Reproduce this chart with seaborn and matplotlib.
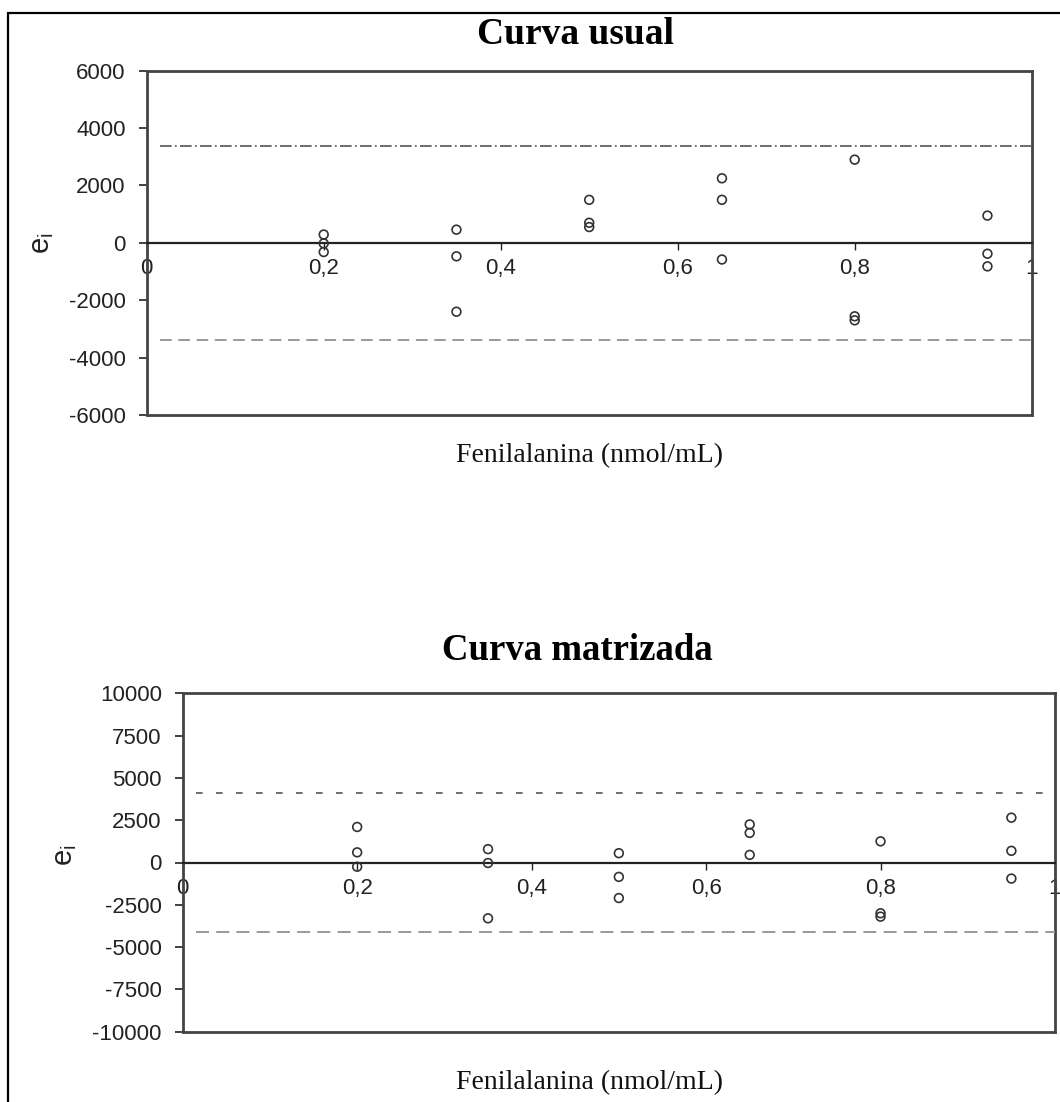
import matplotlib
matplotlib.use("Agg")
import matplotlib.pyplot as plt
import seaborn as sns
import pandas as pd
from matplotlib.patches import Rectangle

# ---------------- data ----------------
x_levels = [0.2, 0.2, 0.2, 0.35, 0.35, 0.35, 0.5, 0.5, 0.5,
            0.65, 0.65, 0.65, 0.8, 0.8, 0.8, 0.95, 0.95, 0.95]
e_usual = [290, -20, -320, 460, -470, -2400, 1500, 700, 550,
           2250, 1500, -580, 2900, -2560, -2700, 950, -380, -820]
e_matrizada = [2100, 600, -250, 790, -30, -3300, 550, -850, -2100,
               2250, 1750, 450, 1250, -3000, -3200, 2650, 690, -950]
lim_usual = 3370
lim_matrizada = 4100

xticks = [0, 0.2, 0.4, 0.6, 0.8, 1]
xtick_labels = ["0", "0,2", "0,4", "0,6", "0,8", "1"]
yticks_usual = [6000, 4000, 2000, 0, -2000, -4000, -6000]
yticks_matrizada = [10000, 7500, 5000, 2500, 0, -2500, -5000, -7500, -10000]

title_usual = "Curva usual"
title_matrizada = "Curva matrizada"
xlabel = "Fenilalanina (nmol/mL)"
ylabel = r"$\mathregular{e_i}$"

# ---------------- style ----------------
sns.set_style("white")
plt.rcParams['font.family'] = ['Liberation Sans', 'DejaVu Sans']
plt.rcParams['axes.unicode_minus'] = False
plt.rcParams['mathtext.fontset'] = 'custom'
plt.rcParams['mathtext.rm'] = 'Liberation Sans'
plt.rcParams['mathtext.it'] = 'Liberation Sans'

W, H = 1060, 1102
fig = plt.figure(figsize=(W / 100, H / 100), dpi=100)
fig.patch.set_facecolor("white")

frame_col = "#444444"
tick_col = "#222222"


def make_panel(rect, yvals, lim, yticks, ls_up, col_up, lw_up, ls_dn, col_dn, lw_dn):
    ax = fig.add_axes(rect)
    df = pd.DataFrame({"x": x_levels, "e": yvals})
    sns.scatterplot(data=df, x="x", y="e", ax=ax, marker="o", s=40,
                    facecolors="none", edgecolor="#333333", linewidth=1.2,
                    zorder=5, legend=False)
    ax.set_xlim(0, 1)
    ax.set_ylim(yticks[-1], yticks[0])
    ax.axhline(lim, xmin=0.015, xmax=1, color=col_up, lw=lw_up, ls=ls_up, zorder=3)
    ax.axhline(-lim, xmin=0.015, xmax=1, color=col_dn, lw=lw_dn, ls=ls_dn, zorder=3)
    # frame bottom edge (x-axis spine sits at zero)
    ax.axhline(yticks[-1], color=frame_col, lw=2.0, clip_on=False, zorder=4)
    for s in ["top", "left", "right"]:
        ax.spines[s].set_color(frame_col)
        ax.spines[s].set_linewidth(2.0)
        ax.spines[s].set_visible(True)
    ax.spines["bottom"].set_position(("data", 0))
    ax.spines["bottom"].set_color("#222222")
    ax.spines["bottom"].set_linewidth(1.6)
    ax.spines["bottom"].set_visible(True)
    ax.set_xticks(xticks)
    ax.set_xticklabels(xtick_labels)
    ax.set_yticks(yticks)
    ax.set_yticklabels([str(v) for v in yticks])
    ax.tick_params(axis="x", direction="out", length=5, width=1.0,
                   pad=6, labelsize=16, colors=tick_col, bottom=True)
    ax.tick_params(axis="y", direction="out", length=6, width=1.2,
                   pad=9, labelsize=16, colors=tick_col, left=True)
    ax.set_xlabel("")
    ax.set_ylabel("")
    ax.grid(False)
    return ax


ax1 = make_panel([146.7 / W, 1 - 415 / H, (1031.7 - 146.7) / W, (415 - 70.7) / H],
                 e_usual, lim_usual, yticks_usual,
                 (0, (7, 2, 1, 2)), "#555555", 1.2, (0, (6, 3.4)), "#999999", 1.4)
ax2 = make_panel([182.7 / W, 1 - 1031.7 / H, (1055 - 182.7) / W, (1031.7 - 693.3) / H],
                 e_matrizada, lim_matrizada, yticks_matrizada,
                 (0, (4, 8)), "#555555", 1.2, (0, (6.7, 3.7)), "#999999", 1.4)

serif = ['Liberation Serif', 'DejaVu Serif']
fig.text(575 / W, 1 - 34 / H, title_usual, ha="center", va="center",
         fontsize=27, fontweight="bold", family=serif, color="black")
fig.text(577 / W, 1 - 650 / H, title_matrizada, ha="center", va="center",
         fontsize=26.5, fontweight="bold", family=serif, color="black")
fig.text(590 / W, 1 - 456 / H, xlabel, ha="center", va="center",
         fontsize=20, family=serif, color="#111111")
fig.text(590 / W, 1 - 1083 / H, xlabel, ha="center", va="center",
         fontsize=20, family=serif, color="#111111")
fig.text(42 / W, 1 - 243 / H, ylabel, ha="center", va="center",
         rotation=90, fontsize=21, color="#222222")
fig.text(65 / W, 1 - 855 / H, ylabel, ha="center", va="center",
         rotation=90, fontsize=21, color="#222222")

# outer border (runs off the right and bottom edges)
fig.patches.append(Rectangle((8 / W, -0.05), 1.2, (1 - 13 / H) + 0.05,
                             transform=fig.transFigure, fill=False,
                             edgecolor="black", lw=1.6))

fig.savefig("out.png", dpi=100, facecolor="white")
